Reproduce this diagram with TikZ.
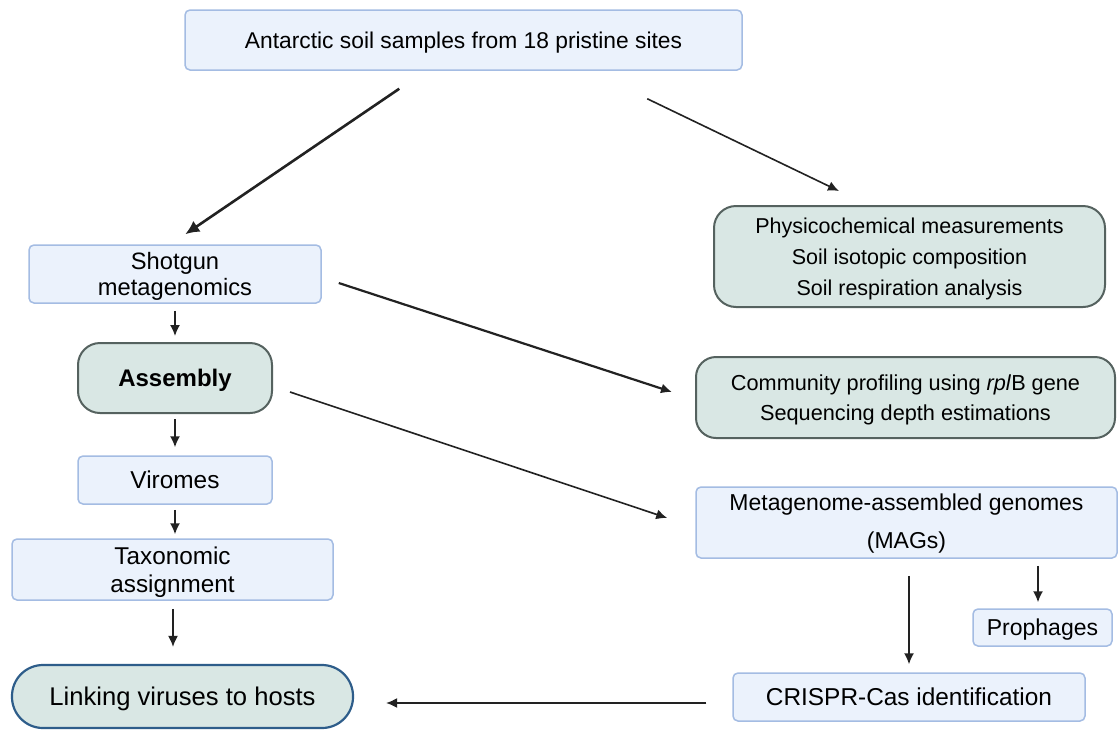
\documentclass[tikz,border=0pt]{standalone}
\usepackage{fontspec}
\setmainfont{Liberation Sans}
\usetikzlibrary{calc,arrows.meta}
\definecolor{bfill}{HTML}{EBF2FC}
\definecolor{bline}{HTML}{A4BCE3}
\definecolor{tfill}{HTML}{D9E7E4}
\definecolor{tline}{HTML}{55625F}
\definecolor{lline}{HTML}{2E5D8A}
\definecolor{arr}{HTML}{222222}
\tikzset{
  bluebox/.style={draw=bline, fill=bfill, line width=1.5pt, rounded corners=5pt, inner sep=0pt, align=center},
  tealbox/.style={draw=tline, fill=tfill, line width=2pt, rounded corners=22pt, inner sep=0pt, align=center},
  conn/.style={draw=arr, line width=1.6pt, -{Latex[length=11pt,width=10pt]}},
  thickconn/.style={draw=arr, line width=2.6pt, -{Latex[length=14pt,width=13pt]}},
}
\begin{document}
\begin{tikzpicture}[x=1pt,y=-1pt]
\useasboundingbox (0,0) rectangle (1120,729);
\fill[white] (0,0) rectangle (1120,729);
% nodes
\node[bluebox, minimum width=557pt, minimum height=60pt, text depth=-8pt, font=\fontsize{22.8}{28}\selectfont] (top) at (463.5,40) {Antarctic soil samples from 18 pristine sites};
\node[bluebox, minimum width=292pt, minimum height=58pt, text depth=-4pt, font=\fontsize{23.7}{26}\selectfont] (shot) at (175,274) {Shotgun\\metagenomics};
\node[tealbox, minimum width=194pt, minimum height=70pt, text depth=-2pt, font=\fontsize{24}{27}\selectfont\bfseries] (asm) at (175,378) {Assembly};
\node[bluebox, minimum width=194pt, minimum height=48pt, text depth=-3pt, font=\fontsize{24.4}{27}\selectfont] (vir) at (175,480) {Viromes};
\node[bluebox, minimum width=321pt, minimum height=61pt, text depth=-8pt, font=\fontsize{24.3}{28}\selectfont] (tax) at (172.5,569.5) {Taxonomic\\assignment};
\node[draw=lline, fill=tfill, line width=2.2pt, rounded corners=31pt, inner sep=0pt, minimum width=341pt, minimum height=63pt, text depth=-6pt, font=\fontsize{25.6}{28}\selectfont] (link) at (182.5,696.5) {Linking viruses to hosts};
\node[tealbox, minimum width=391pt, minimum height=101pt, text depth=-7pt, font=\fontsize{21.5}{31}\selectfont] (phys) at (909.5,256.5) {Physicochemical measurements\\Soil isotopic composition\\Soil respiration analysis};
\node[tealbox, rounded corners=20pt, minimum width=419pt, minimum height=81pt, text depth=-5pt, font=\fontsize{21.7}{30.5}\selectfont] (comm) at (905.5,397.5) {Community profiling using \textit{rpl}B gene\\Sequencing depth estimations};
\node[bluebox, minimum width=421pt, minimum height=71pt, text depth=3pt, font=\fontsize{23}{37.5}\selectfont] (mags) at (906.5,522.5) {Metagenome-assembled genomes\\(MAGs)};
\node[bluebox, minimum width=139pt, minimum height=37pt, text depth=0pt, font=\fontsize{23}{27}\selectfont] (proph) at (1042.5,627.5) {Prophages};
\node[bluebox, minimum width=352pt, minimum height=48pt, text depth=-3pt, font=\fontsize{24.4}{27}\selectfont] (cris) at (909,697) {CRISPR-Cas identification};
% connectors
\draw[thickconn] ($(top.south west)+(215,18)$) -- ($(shot.north west)+(157,-10)$);
\draw[conn] ($(top.south west)+(463,28)$) -- ($(phys.north west)+(126,-14)$);
\draw[conn] ($(shot.south)+(0,7)$) -- ($(asm.north)+(0,-6)$);
\draw[conn, line width=2.2pt] ($(shot.east)+(17,9)$) -- ($(comm.west)+(-23,-5.5)$);
\draw[conn] ($(asm.east)+(17,14)$) -- ($(mags.west)+(-28,-4.5)$);
\draw[conn] ($(asm.south)+(0,5)$) -- ($(vir.north)+(0,-8)$);
\draw[conn] ($(vir.south)+(0,5)$) -- ($(tax.north)+(2.5,-4)$);
\draw[conn] ($(tax.south)+(0.5,8)$) -- ($(link.north)+(-9.5,-17)$);
\draw[conn] ($(mags.south)+(2.5,17)$) -- ($(cris.north)+(0,-8)$);
\draw[conn] ($(mags.south)+(131.5,7)$) -- ($(proph.north)+(-4.5,-6)$);
\draw[conn] ($(cris.west)+(-26,6)$) -- ($(link.east)+(32,6.5)$);
\end{tikzpicture}
\end{document}
